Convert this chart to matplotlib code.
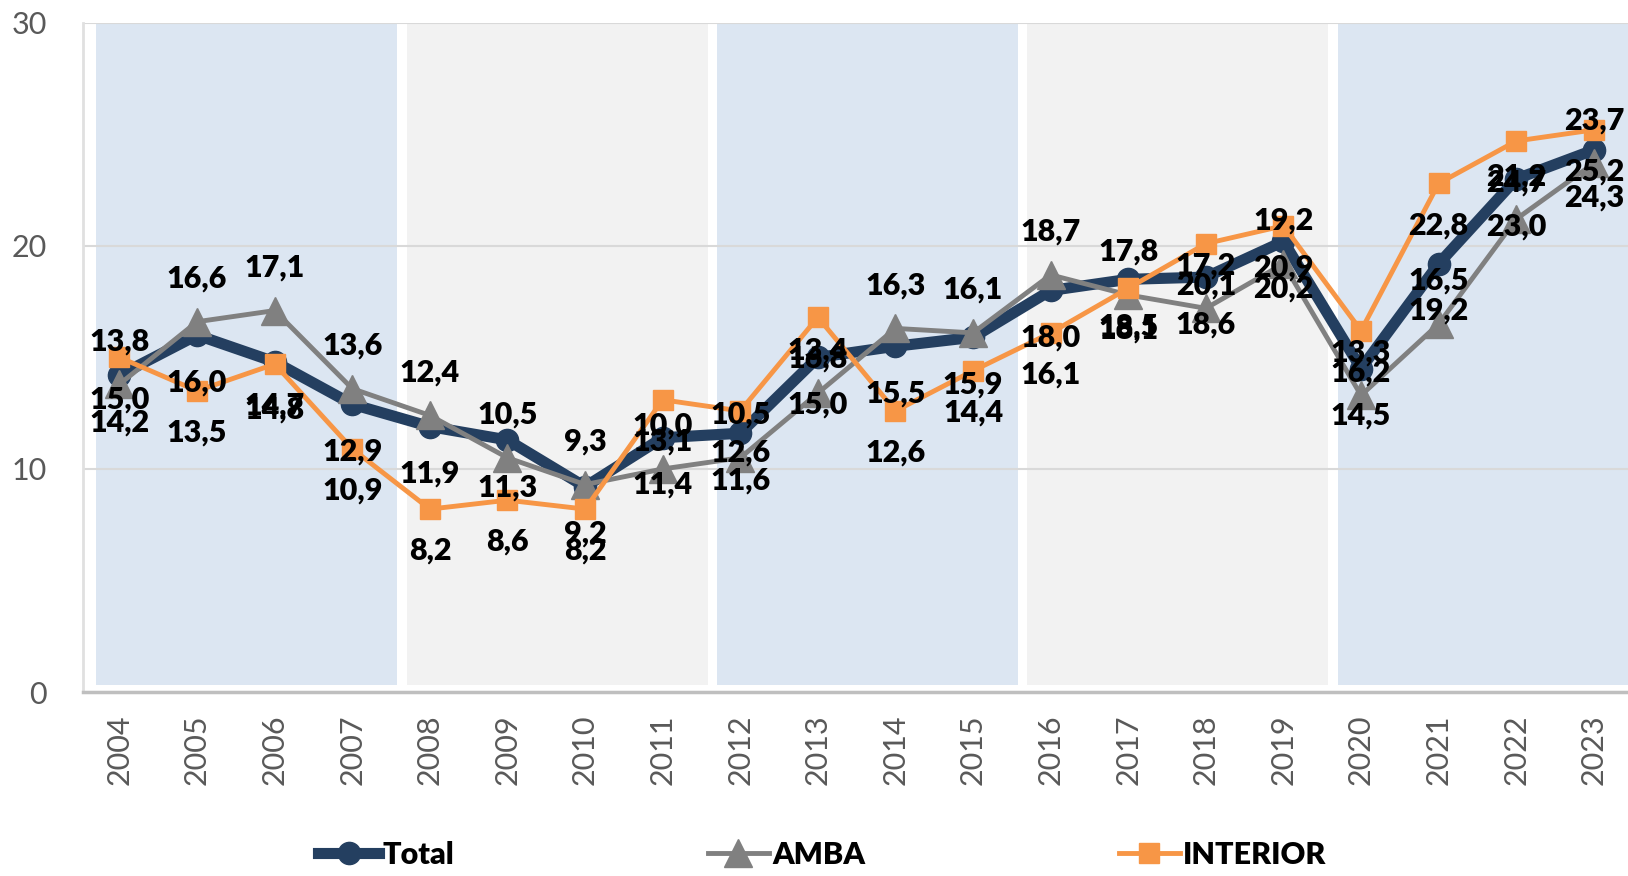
import matplotlib
matplotlib.use('Agg')
import matplotlib.pyplot as plt

# Data
years = list(range(2004, 2024))
total = [14.2, 16.0, 14.8, 12.9, 11.9, 11.3, 9.2, 11.4, 11.6, 15.0,
         15.5, 15.9, 18.0, 18.5, 18.6, 20.2, 14.5, 19.2, 23.0, 24.3]
amba = [13.8, 16.6, 17.1, 13.6, 12.4, 10.5, 9.3, 10.0, 10.5, 13.4,
        16.3, 16.1, 18.7, 17.8, 17.2, 19.2, 13.3, 16.5, 21.2, 23.7]
interior = [15.0, 13.5, 14.7, 10.9, 8.2, 8.6, 8.2, 13.1, 12.6, 16.8,
            12.6, 14.4, 16.1, 18.1, 20.1, 20.9, 16.2, 22.8, 24.7, 25.2]
periods = [(2004, 2007), (2008, 2011), (2012, 2015), (2016, 2019), (2020, 2023)]

plt.rcParams['font.family'] = ['Lato', 'DejaVu Sans']

navy = '#243F60'
gray = '#808080'
orange = '#F79646'
band_colors = ['#DCE6F2', '#F2F2F2']

fig = plt.figure(figsize=(16.28, 8.76), dpi=100)
ax = fig.add_axes([0.051, 0.21, 0.949, 0.764])

# background bands (one per 4-year period)
for i, (a, b) in enumerate(periods):
    ax.fill_between([a - 0.3, b + 0.58], 0.3, 30, color=band_colors[i % 2],
                    zorder=0, linewidth=0)

ax.set_ylim(0, 30)
ax.set_xlim(2003.53, 2023.44)
ax.set_yticks([0, 10, 20, 30])
ax.yaxis.grid(True, color='#D9D9D9', linewidth=1.5, zorder=0.5)
ax.set_axisbelow(True)
ax.set_xticks(years)
ax.set_xticklabels([str(y) for y in years], rotation=90)
ax.tick_params(axis='both', length=0, labelsize=22, labelcolor='#595959')
ax.tick_params(axis='x', pad=16)
ax.tick_params(axis='y', pad=26)
for s in ['top', 'right']:
    ax.spines[s].set_visible(False)
ax.spines['left'].set_color('#E0E0E0')
ax.spines['left'].set_linewidth(2)
ax.spines['bottom'].set_color('#BFBFBF')
ax.spines['bottom'].set_linewidth(2.5)

l1, = ax.plot(years, total, color=navy, lw=8, marker='o', ms=16, zorder=3,
              label='Total')
l2, = ax.plot(years, amba, color=gray, lw=3.5, marker='^', ms=20, zorder=4,
              label='AMBA')
l3, = ax.plot(years, interior, color=orange, lw=3.5, marker='s', ms=15, zorder=5,
              label='INTERIOR')


def fmt(v):
    return f"{v:.1f}".replace('.', ',')


for series, dy in [(amba, 31), (interior, -30), (total, -34)]:
    for x, v in zip(years, series):
        ax.annotate(fmt(v), (x, v), xytext=(0, dy), textcoords='offset points',
                    ha='center', va='center', fontsize=22, fontweight='heavy',
                    color='black', zorder=6, annotation_clip=False)

fig.legend(handles=[l1, l2, l3], loc='center', bbox_to_anchor=(0.505, 0.024),
           ncol=3, frameon=False, handlelength=2.0, handletextpad=0.1,
           columnspacing=8.3, prop={'size': 22, 'weight': 'heavy'})

fig.savefig('out.png', dpi=100)
